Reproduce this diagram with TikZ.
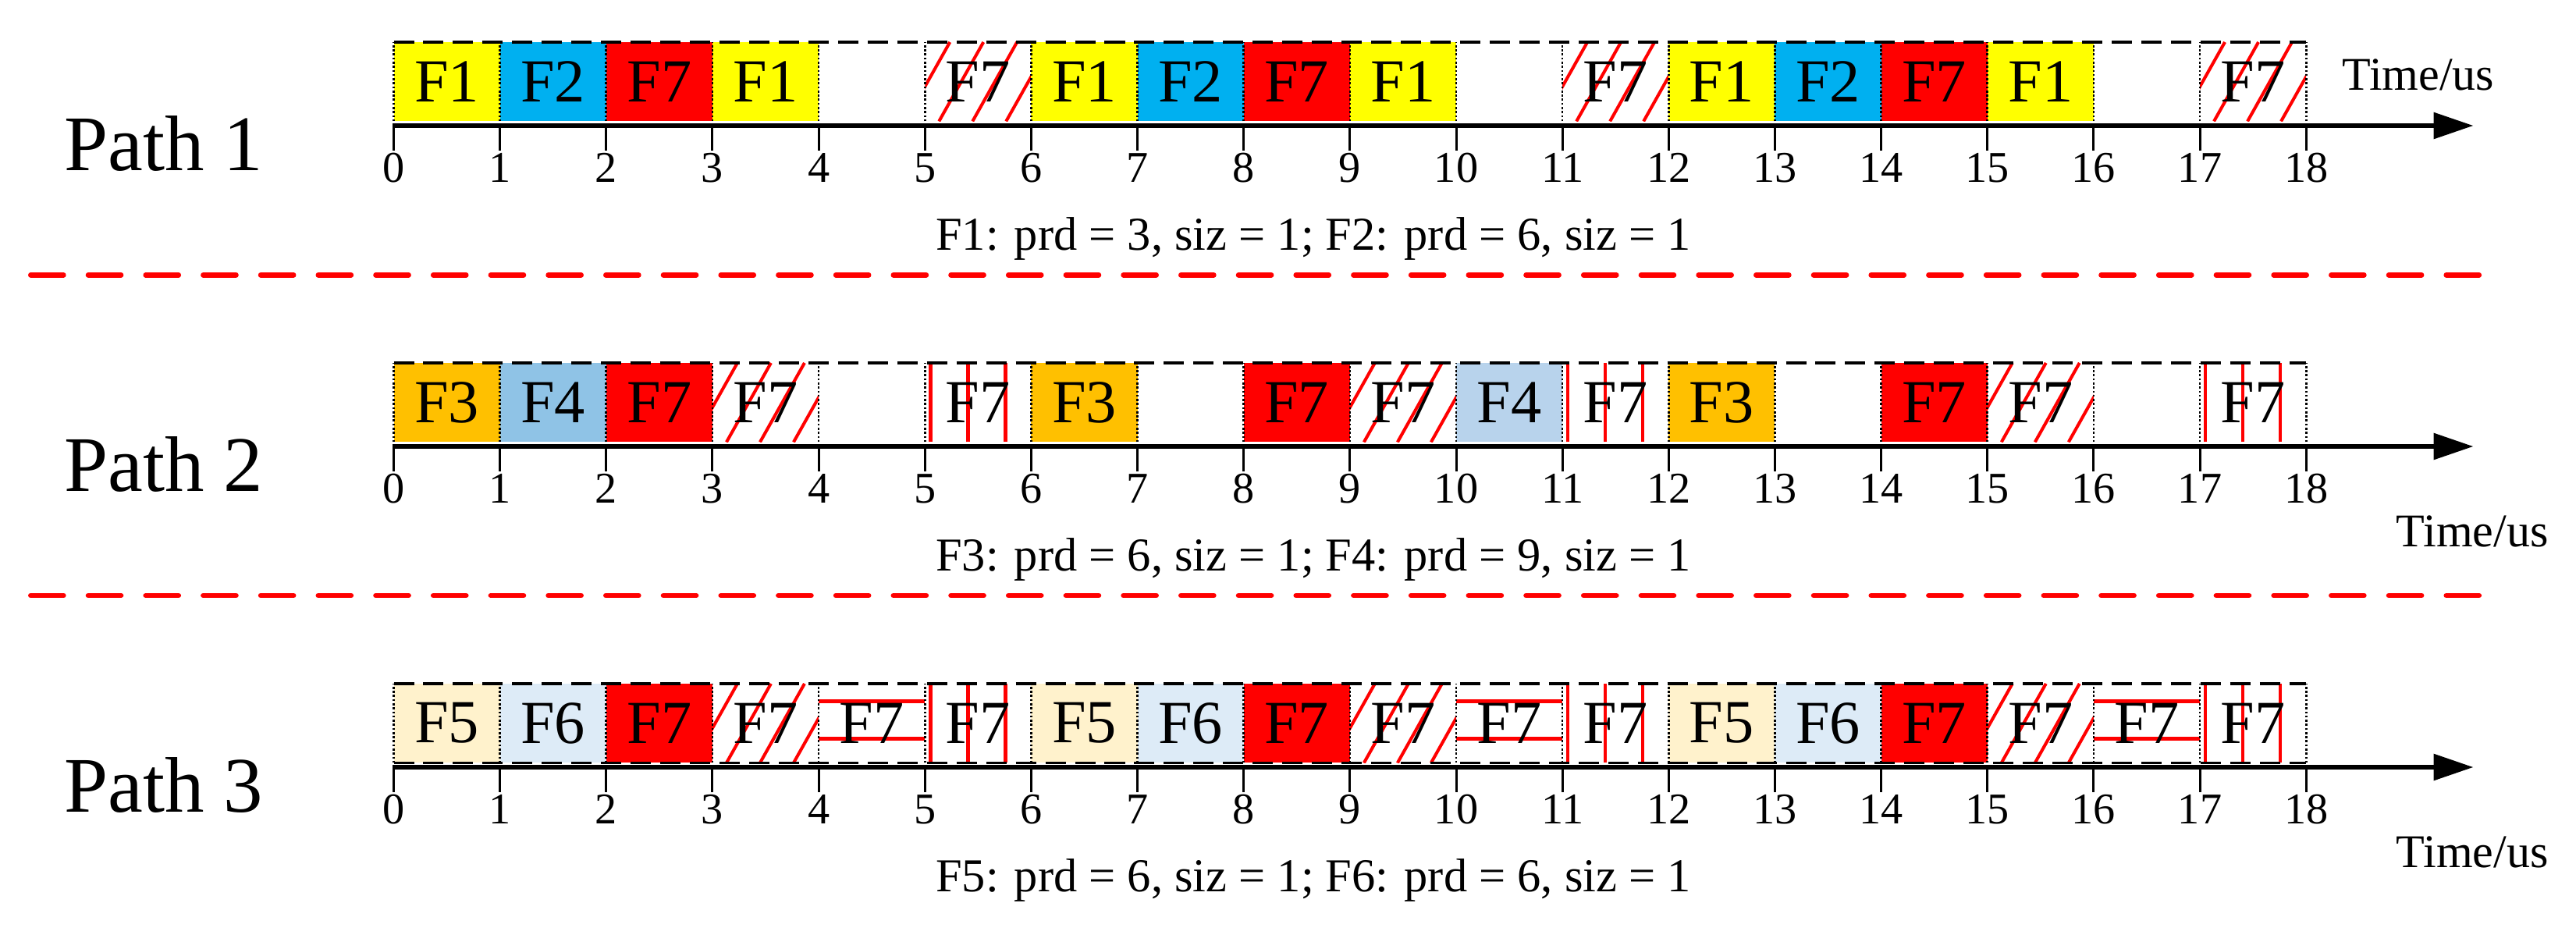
\documentclass[tikz,border=0pt]{standalone}
\usepackage{fontspec}
\setmainfont{Liberation Serif}
\usetikzlibrary{arrows.meta}
\definecolor{cyel}{HTML}{FFFF00}
\definecolor{ccyan}{HTML}{00B0F0}
\definecolor{cred}{HTML}{FF0000}
\definecolor{corange}{HTML}{FFC000}
\definecolor{cblue}{HTML}{8FC3E6}
\definecolor{cblueb}{HTML}{B8D3EC}
\definecolor{ccream}{HTML}{FFF2CC}
\definecolor{cpale}{HTML}{DDEBF7}
\tikzset{
  slot/.style={rectangle, inner sep=0pt, minimum width=1.3615cm, minimum height=1.015cm,
    font=\fontsize{22.3}{24}\selectfont},
  kind/.style={k-#1},
  k-yel/.style={fill=cyel},
  k-cyan/.style={fill=ccyan},
  k-red/.style={fill=cred},
  k-orange/.style={fill=corange},
  k-blue/.style={fill=cblue},
  k-blueb/.style={fill=cblueb},
  k-cream/.style={fill=ccream},
  k-pale/.style={fill=cpale},
  hatchl/.style={cred, line width=1.15pt},
  redv/.style={cred, line width=1.28pt},
  redh/.style={cred, line width=1.42pt},
  k-hatch/.style={fill=white, path picture={
      \foreach \k in {0,...,3}
        \draw[hatchl] ([xshift={-0.25cm+\k*0.43cm}]path picture bounding box.south west) -- ++(0.57,1.015);}},
  k-vl/.style={fill=white, path picture={
      \foreach \o in {0.07,0.55,1.03}
        \draw[redv] ([xshift=\o cm]path picture bounding box.south west) -- ([xshift=\o cm]path picture bounding box.north west);}},
  k-hl/.style={fill=white, path picture={
      \foreach \o in {0.31,0.794}
        \draw[redh] ([yshift=\o cm]path picture bounding box.south west) -- ([yshift=\o cm]path picture bounding box.south east);}},
  dotv/.style={black, line width=0.75pt, dash pattern=on 0.75pt off 0.75pt},
  dashh/.style={black, line width=0.9pt, dash pattern=on 7.4pt off 3.4pt},
  axisl/.style={black, line width=1.7pt, -{Triangle[length=0.51cm,width=0.33cm]}},
  tickl/.style={black, line width=0.85pt},
  ticklab/.style={anchor=base, inner sep=0pt, font=\fontsize{16}{18}\selectfont},
  pathlab/.style={anchor=base west, inner sep=0pt, font=\fontsize{28.7}{32}\selectfont},
  timelab/.style={anchor=base west, inner sep=0pt, font=\fontsize{17.1}{19}\selectfont},
  captionlab/.style={anchor=base, inner sep=0pt, font=\fontsize{17.2}{19}\selectfont},
  sepl/.style={cred, line width=1.9pt, line cap=round, dash pattern=on 0.42cm off 0.317cm},
}
\begin{document}
\begin{tikzpicture}
\useasboundingbox (0,0) rectangle (33.01,-11.98);
% slots
\foreach \p/\t/\lab/\kd in {
  1/0/F1/yel, 1/1/F2/cyan, 1/2/F7/red, 1/3/F1/yel, 1/5/F7/hatch,
  1/6/F1/yel, 1/7/F2/cyan, 1/8/F7/red, 1/9/F1/yel, 1/11/F7/hatch,
  1/12/F1/yel, 1/13/F2/cyan, 1/14/F7/red, 1/15/F1/yel, 1/17/F7/hatch,
  2/0/F3/orange, 2/1/F4/blue, 2/2/F7/red, 2/3/F7/hatch, 2/5/F7/vl,
  2/6/F3/orange, 2/8/F7/red, 2/9/F7/hatch, 2/10/F4/blueb, 2/11/F7/vl,
  2/12/F3/orange, 2/14/F7/red, 2/15/F7/hatch, 2/17/F7/vl,
  3/0/F5/cream, 3/1/F6/pale, 3/2/F7/red, 3/3/F7/hatch, 3/4/F7/hl, 3/5/F7/vl,
  3/6/F5/cream, 3/7/F6/pale, 3/8/F7/red, 3/9/F7/hatch, 3/10/F7/hl, 3/11/F7/vl,
  3/12/F5/cream, 3/13/F6/pale, 3/14/F7/red, 3/15/F7/hatch, 3/16/F7/hl, 3/17/F7/vl} {
  \pgfmathsetmacro\ay{-1.61-(\p-1)*4.11}
  \pgfmathsetmacro\xc{5.045+1.3615*\t+0.68075}
  \node[slot, kind/.expanded=\kd] (p\p-\t) at (\xc, \ay+0.563) {\lab};
}
% frames, axes, ticks
\foreach \p/\ay in {1/-1.61, 2/-5.72, 3/-9.83} {
  \foreach \t in {0,...,18}
    \draw[dotv] (5.045+1.3615*\t, \ay+0.0555) -- (5.045+1.3615*\t, \ay+1.07);
  \draw[dashh] (5.045, \ay+1.07) -- (29.552, \ay+1.07);
  \coordinate (ax\p s) at (5.03, \ay);
  \coordinate (ax\p e) at (31.695, \ay);
  \draw[axisl] (ax\p s) -- (ax\p e);
  \foreach \t in {0,...,18} {
    \draw[tickl] (5.045+1.3615*\t, \ay) -- (5.045+1.3615*\t, \ay-0.32);
    \node[ticklab] (tl\p-\t) at (5.045+1.3615*\t, \ay-0.725) {\t};
  }
  \node[pathlab] (path\p) at (0.817, \ay-0.573) {Path \p};
}
\draw[dashh] (5.045, -9.7745) -- (29.552, -9.7745);
% time labels
\node[timelab] (time1) at (30.007, -1.15) {Time/us};
\node[timelab] (time2) at (30.70, -7.005) {Time/us};
\node[timelab] (time3) at (30.70, -11.115) {Time/us};
% captions
\node[captionlab] (cap1) at (16.83, -3.20) {F1: prd = 3, siz = 1; F2: prd = 6, siz = 1};
\node[captionlab] (cap2) at (16.83, -7.31) {F3: prd = 6, siz = 1; F4: prd = 9, siz = 1};
\node[captionlab] (cap3) at (16.83, -11.42) {F5: prd = 6, siz = 1; F6: prd = 6, siz = 1};
% separators
\coordinate (s1a) at (0.3935, -3.523);
\coordinate (s1b) at (32.0, -3.523);
\coordinate (s2a) at (0.3935, -7.63);
\coordinate (s2b) at (32.0, -7.63);
\draw[sepl] (s1a) -- (s1b);
\draw[sepl] (s2a) -- (s2b);
\end{tikzpicture}
\end{document}
